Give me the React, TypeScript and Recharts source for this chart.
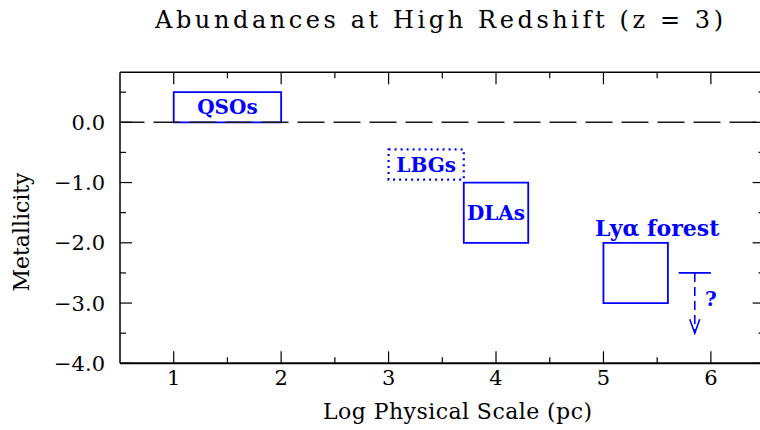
import React from "react"
import {
  ComposedChart,
  XAxis,
  YAxis,
  ReferenceArea,
  ReferenceLine,
  ReferenceDot,
} from "recharts"

// abundance boxes: log physical scale (pc) vs metallicity
const populations = ["QSOs", "LBGs", "DLAs", "Lyα forest"]
const scaleMin = [1.0, 3.0, 3.7, 5.0]
const scaleMax = [2.0, 3.7, 4.3, 5.6]
const metalMin = [0.0, -0.95, -2.0, -3.0]
const metalMax = [0.5, -0.45, -1.0, -2.0]

// Lya forest label sits above its box
const forestLabelScale = 5.5
const forestLabelMetal = -1.75

// upper limit marker beyond the forest box
const limitScale = 5.85
const limitCapFrom = 5.7
const limitCapTo = 6.0
const limitMetal = -2.5
const limitArrowTo = -3.5
const queryScale = 6.0
const queryMetal = -2.93

const xMajor = [1, 2, 3, 4, 5, 6]
const xTicks = [1, 1.5, 2, 2.5, 3, 3.5, 4, 4.5, 5, 5.5, 6]
const yMajor = [0, -1, -2, -3, -4]
const yTickLabels = ["0.0", "−1.0", "−2.0", "−3.0", "−4.0"]
const yTicks = [0.5, 0, -0.5, -1, -1.5, -2, -2.5, -3, -3.5, -4]

// rows the chart needs so its axes get a data range
const rows = populations.map((name, i) => ({
  name,
  scale: scaleMin[i],
  metal: metalMin[i],
}))

const BLUE = "#0000ff"
const SERIF = '"DejaVu Serif", serif'

const tickStroke = { stroke: "#000", strokeWidth: 1.2 }

function BottomTick(props: any) {
  const { x, y, payload } = props
  const i = xMajor.indexOf(payload.value)
  return (
    <g>
      <line x1={x} y1={y} x2={x} y2={y - (i >= 0 ? 12 : 6)} {...tickStroke} />
      {i >= 0 && (
        <text x={x} y={y + 22} textAnchor="middle" fontFamily={SERIF} fontSize={21} fill="#000">
          {xMajor[i]}
        </text>
      )}
    </g>
  )
}

function TopTick(props: any) {
  const { x, y, payload } = props
  const major = xMajor.includes(payload.value)
  return <line x1={x} y1={y} x2={x} y2={y + (major ? 12 : 6)} {...tickStroke} />
}

function LeftTick(props: any) {
  const { x, y, payload } = props
  const i = yMajor.indexOf(payload.value)
  return (
    <g>
      <line x1={x} y1={y} x2={x + (i >= 0 ? 12 : 6)} y2={y} {...tickStroke} />
      {i >= 0 && (
        <text x={x - 15} y={y + 7.5} textAnchor="end" fontFamily={SERIF} fontSize={21} fill="#000">
          {yTickLabels[i]}
        </text>
      )}
    </g>
  )
}

function RightTick(props: any) {
  const { x, y, payload } = props
  const major = yMajor.includes(payload.value)
  return <line x1={x} y1={y} x2={x - (major ? 12 : 6)} y2={y} {...tickStroke} />
}

function ArrowHead(props: any) {
  const { cx, cy } = props
  return (
    <path
      d={`M${cx - 5},${cy - 14} L${cx},${cy} L${cx + 5},${cy - 14}`}
      fill="none"
      stroke={BLUE}
      strokeWidth={1.6}
    />
  )
}

const boxLabel = (name: string) => ({
  value: name,
  position: "center" as const,
  fill: BLUE,
  fontFamily: SERIF,
  fontWeight: "bold",
  fontSize: 20,
})

export default function App() {
  return (
    <div
      style={{
        position: "absolute",
        left: 0,
        top: 0,
        width: 760,
        height: 430,
        overflow: "hidden",
        background: "#fff",
      }}
    >
      <ComposedChart
        width={780}
        height={430}
        data={rows}
        margin={{ top: 71.3, right: 14.4, bottom: 6.7, left: 20 }}
      >
        <XAxis
          xAxisId={0}
          dataKey="scale"
          type="number"
          domain={[0.5, 6.5]}
          allowDataOverflow
          ticks={xTicks}
          interval={0}
          tickSize={0}
          tickMargin={0}
          tickLine={false}
          tick={BottomTick}
          height={60}
          axisLine={{ stroke: "#000", strokeWidth: 2 }}
          label={() => (
            <text
              x={457.5}
              y={419}
              textAnchor="middle"
              fontFamily={SERIF}
              fontSize={22}
              textLength={269}
              lengthAdjust="spacing"
              fill="#000"
            >
              Log Physical Scale (pc)
            </text>
          )}
        />
        <XAxis
          xAxisId="top"
          dataKey="scale"
          orientation="top"
          type="number"
          domain={[0.5, 6.5]}
          allowDataOverflow
          ticks={xTicks}
          interval={0}
          tickSize={0}
          tickMargin={0}
          tickLine={false}
          tick={TopTick}
          height={1}
          axisLine={{ stroke: "#000", strokeWidth: 1.5 }}
          label={() => (
            <text
              x={439}
              y={28}
              textAnchor="middle"
              fontFamily={SERIF}
              fontSize={24}
              textLength={568}
              lengthAdjust="spacing"
              fill="#000"
            >
              Abundances at High Redshift (z = 3)
            </text>
          )}
        />
        <YAxis
          yAxisId={0}
          dataKey="metal"
          type="number"
          domain={[-4, 0.83]}
          allowDataOverflow
          ticks={yTicks}
          interval={0}
          tickSize={0}
          tickMargin={0}
          tickLine={false}
          tick={LeftTick}
          width={100}
          axisLine={{ stroke: "#000", strokeWidth: 1.5 }}
          label={() => (
            <text
              x={29}
              y={232}
              transform="rotate(-90, 29, 232)"
              textAnchor="middle"
              fontFamily={SERIF}
              fontSize={22}
              textLength={119}
              lengthAdjust="spacing"
              fill="#000"
            >
              Metallicity
            </text>
          )}
        />
        <YAxis
          yAxisId="right"
          dataKey="metal"
          orientation="right"
          type="number"
          domain={[-4, 0.83]}
          allowDataOverflow
          ticks={yTicks}
          interval={0}
          tickSize={0}
          tickMargin={0}
          tickLine={false}
          tick={RightTick}
          width={1}
          axisLine={{ stroke: "#000", strokeWidth: 1.5 }}
        />

        <ReferenceLine
          y={0}
          stroke="#1a1a1a"
          strokeWidth={1.5}
          strokeDasharray="27 9"
          strokeDashoffset={2.5}
        />

        {populations.map((name, i) => (
          <ReferenceArea
            key={name}
            x1={scaleMin[i]}
            x2={scaleMax[i]}
            y1={metalMin[i]}
            y2={metalMax[i]}
            fill="none"
            stroke={BLUE}
            strokeWidth={name === "LBGs" ? 2.2 : 1.8}
            strokeDasharray={name === "LBGs" ? "2 4" : undefined}
            label={name === "Lyα forest" ? undefined : boxLabel(name)}
          />
        ))}

        <ReferenceDot
          x={forestLabelScale}
          y={forestLabelMetal}
          r={1}
          fill="none"
          stroke="none"
          label={{ ...boxLabel(populations[3]), fontSize: 22 }}
        />

        <ReferenceLine
          segment={[
            { x: limitCapFrom, y: limitMetal },
            { x: limitCapTo, y: limitMetal },
          ]}
          stroke={BLUE}
          strokeWidth={1.8}
        />
        <ReferenceLine
          segment={[
            { x: limitScale, y: limitMetal },
            { x: limitScale, y: limitArrowTo },
          ]}
          stroke={BLUE}
          strokeWidth={1.6}
          strokeDasharray="9 5"
        />
        <ReferenceDot
          x={limitScale}
          y={limitArrowTo}
          r={1}
          shape={ArrowHead}
        />
        <ReferenceDot
          x={queryScale}
          y={queryMetal}
          r={1}
          fill="none"
          stroke="none"
          label={{ ...boxLabel("?"), fontSize: 20 }}
        />
      </ComposedChart>
    </div>
  )
}
